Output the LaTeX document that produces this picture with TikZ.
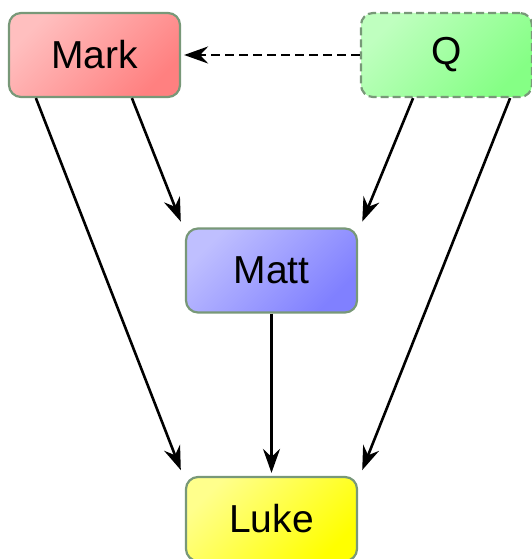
\documentclass[tikz,border=0pt]{standalone}
\usepackage{fontspec}
\setmainfont{Liberation Sans}
\usetikzlibrary{arrows.meta}
\definecolor{edgegreen}{HTML}{789878}
\begin{document}
\begin{tikzpicture}[x=1pt,y=1pt,
 gospel/.style={draw=edgegreen,line width=2.2pt,rounded corners=12pt,minimum width=171pt,minimum height=84pt,font=\fontsize{39}{39}\selectfont},
 tint/.style 2 args={top color=#1,bottom color=#2,shading angle=45},
 dep/.style={line width=2.6pt,shorten >=3pt,-{Stealth[length=24pt,width=17pt,inset=8pt]}}]
 \useasboundingbox (0,0) rectangle (532,559);
 \node[gospel,tint={red!25}{red!50}] (mark) at (94.5,504) {Mark};
 \node[gospel,dash pattern=on 8pt off 4pt,tint={green!25}{green!48}] (q) at (446.5,504) {Q};
 \node[gospel,tint={blue!25}{blue!50}] (matt) at (271.5,288.5) {Matt};
 \node[gospel,tint={yellow!45}{yellow}] (luke) at (271.5,40) {Luke};
 \draw[dep,dash pattern=on 9pt off 5pt] (q.west) -- (mark.east);
 \draw[dep] ([xshift=124pt]mark.south west) -- ([shift={(-3pt,3pt)}]matt.north west);
 \draw[dep] ([xshift=28pt]mark.south west) -- ([shift={(-3pt,3pt)}]luke.north west);
 \draw[dep] ([xshift=-120pt]q.south east) -- ([shift={(3pt,3pt)}]matt.north east);
 \draw[dep] ([xshift=-23pt]q.south east) -- ([shift={(3pt,3pt)}]luke.north east);
 \draw[dep] (matt) -- (luke);
\end{tikzpicture}
\end{document}
